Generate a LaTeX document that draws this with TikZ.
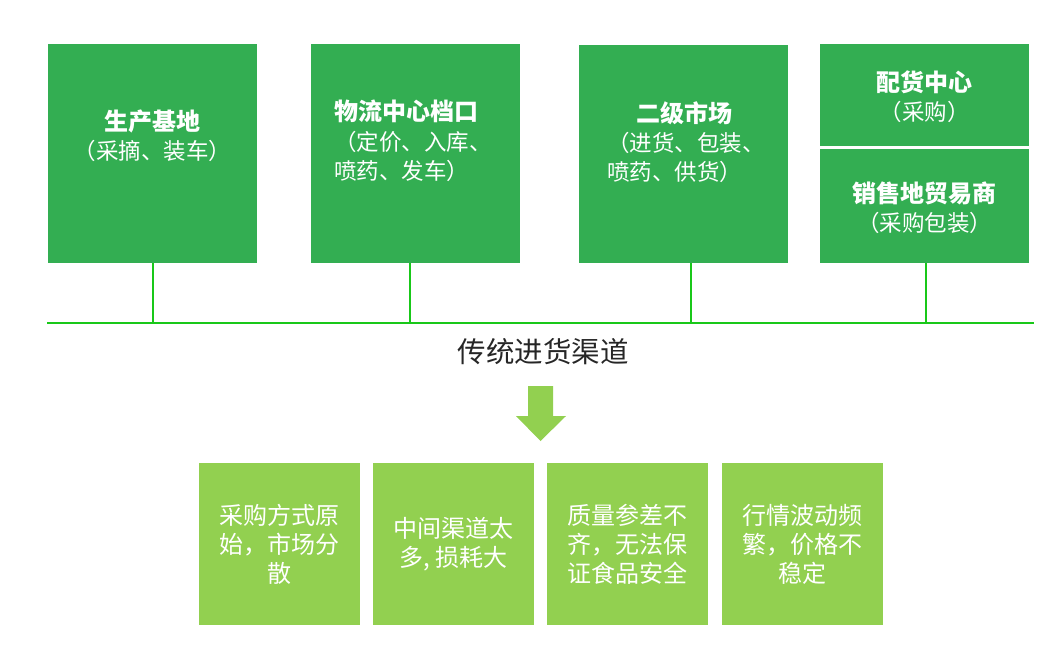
\documentclass[tikz,border=0pt]{standalone}
\usepackage{fontspec}
\setmainfont{Noto Sans CJK SC}
\definecolor{deepgreen}{RGB}{51,174,82}
\definecolor{paleGreen}{RGB}{146,208,80}
\definecolor{busgreen}{RGB}{25,200,25}
\definecolor{inkgray}{RGB}{38,38,38}
\tikzset{
  topbox/.style={fill=deepgreen,inner sep=0pt,minimum width=209pt,anchor=north west},
  lowbox/.style={fill=paleGreen,inner sep=0pt,minimum width=161pt,minimum height=162pt,text=white,align=center,font=\fontsize{24}{29}\selectfont},
  headtext/.style={text=white,inner sep=0pt,font=\fontsize{24}{30}\selectfont\bfseries},
  subtext/.style={text=white,inner sep=0pt,font=\fontsize{22.5}{29.5}\selectfont},
  bus/.style={busgreen,line width=2pt}
}
\begin{document}
\begin{tikzpicture}[x=1pt,y=-1pt]
\useasboundingbox (0,0) rectangle (1057,665);
% upper row
\node[topbox,minimum height=219pt] (base) at (48,44) {};
\node[topbox,minimum height=219pt] (hub) at (311,44) {};
\node[topbox,minimum height=218pt] (market) at (579,45) {};
\node[topbox,minimum height=102pt] (depot) at (820,44) {};
\node[topbox,minimum height=114pt] (trader) at (820,149) {};
\node[headtext] (baseT) at (152.5,121) {生产基地};\node[subtext] (baseS) at (152.5,151) {（采摘、装车）};
\node[headtext,anchor=west] (hubT) at (334,111) {物流中心档口};\node[subtext,align=left,anchor=west] (hubS) at (334,156.5) {（定价、入库、\\喷药、发车）};
\node[headtext] (marketT) at (684,113) {二级市场};\node[subtext,align=left,anchor=west] (marketS) at (607,157.5) {（进货、包装、\\喷药、供货）};
\node[headtext] (depotT) at (924.5,82) {配货中心};\node[subtext] (depotS) at (924.5,112) {（采购）};
\node[headtext] (traderT) at (924.5,193) {销售地贸易商};\node[subtext] (traderS) at (924.5,223) {（采购包装）};
% bus line
\coordinate (busL) at (47,323);\coordinate (busR) at (1034,323);
\draw[bus] (busL)--(busR);
\foreach \n/\dx in {base/0,hub/-5.5,market/7,trader/1.5} \draw[bus] ([xshift=\dx pt]\n.south)--([xshift=\dx pt]\n.south |- busL);
\node[text=inkgray,font=\fontsize{28.5}{34}\selectfont] (channel) at (543,352) {传统进货渠道};
\fill[paleGreen] (528,386)--(553,386)--(553,416)--(566,416)--(540.5,441)--(516,416)--(528,416)--cycle;
% lower row
\node[lowbox] (scatter) at (279.5,544) {采购方式原\\始，市场分\\散};
\node[lowbox] (loss) at (453.5,544) {中间渠道太\\多, 损耗大};
\node[lowbox] (quality) at (627.5,544) {质量参差不\\齐，无法保\\证食品安全};
\node[lowbox] (price) at (802,544) {行情波动频\\繁，价格不\\稳定};
\end{tikzpicture}
\end{document}
